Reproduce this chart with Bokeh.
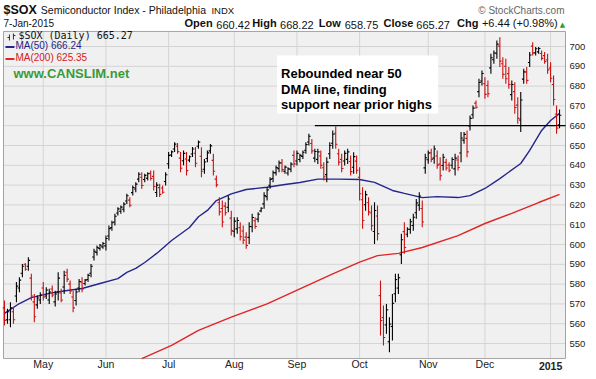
import pandas as pd
from bokeh.plotting import figure
from bokeh.models import ColumnDataSource, Label, FixedTicker, Range1d
from bokeh.embed import file_html
from bokeh.resources import INLINE

# ---------------- data ----------------
holidays = ["2014-04-18", "2014-05-26", "2014-07-04", "2014-09-01",
            "2014-11-27", "2014-12-25", "2015-01-01"]
dates = pd.bdate_range("2014-04-11", "2015-01-07", freq="C", holidays=holidays)

opens = [
    568.0, 562.0, 562.0, 566.0, 574.0, 578.0, 585.5, 590.0, 589.0, 583.0,
    571.0, 569.5, 572.0, 578.0, 574.0, 572.0, 577.5, 571.0, 576.0, 575.5,
    578.5, 586.0, 580.0, 573.5, 571.7, 578.0, 581.0, 580.3, 582.3, 585.5,
    593.7, 596.0, 598.0, 598.8, 599.3, 604.3, 608.5, 611.4, 615.9, 616.8,
    617.8, 622.0, 622.4, 626.2, 628.0, 633.0, 634.0, 632.8, 633.5, 636.0,
    634.4, 626.3, 628.7, 628.5, 631.8, 640.8, 645.2, 648.2, 649.6, 643.6,
    642.3, 643.2, 642.6, 645.7, 646.1, 649.6, 644.6, 638.0, 643.4, 647.3,
    642.5, 633.0, 621.1, 618.2, 619.4, 618.8, 613.3, 606.7, 607.9, 608.5,
    606.8, 603.7, 603.6, 609.0, 612.0, 612.8, 617.0, 620.5, 624.2, 629.9,
    633.3, 636.3, 638.3, 641.2, 637.0, 636.1, 638.0, 645.0, 642.2, 642.9,
    644.5, 647.6, 651.8, 651.0, 643.6, 643.0, 644.7, 638.8, 635.3, 645.8,
    651.1, 656.2, 645.8, 643.0, 642.2, 643.0, 641.9, 639.0, 642.1, 634.0,
    622.6, 620.1, 621.1, 615.9, 606.6, 614.4, 574.2, 563.1, 559.4, 550.9,
    558.6, 575.1, 578.0, 594.8, 606.5, 605.2, 607.7, 609.6, 616.0, 619.9,
    618.2, 638.7, 642.8, 646.3, 643.6, 644.7, 640.6, 639.9, 641.5, 640.1,
    640.0, 638.2, 642.7, 646.2, 652.7, 653.6, 659.9, 665.5, 671.4, 677.2,
    682.6, 681.2, 680.3, 689.2, 693.3, 696.6, 700.2, 691.3, 690.0, 686.3,
    675.7, 677.2, 670.4, 662.9, 683.5, 687.1, 691.9, 700.2, 696.8, 697.3,
    696.5, 695.4, 693.3, 689.1, 680.8, 665.9, 660.42]

highs = [
    571.7, 567.5, 570.8, 568.3, 581.0, 583.5, 590.2, 590.5, 593.6, 585.2,
    575.0, 574.2, 575.9, 581.0, 578.4, 577.6, 579.3, 576.7, 586.0, 577.6,
    586.8, 587.7, 581.8, 576.7, 577.6, 582.6, 583.5, 582.6, 585.2, 590.2,
    597.8, 599.5, 600.3, 601.2, 604.5, 609.6, 612.0, 615.5, 618.8, 619.7,
    621.4, 625.6, 623.9, 629.8, 631.5, 636.5, 636.5, 635.7, 636.5, 637.4,
    637.4, 631.5, 630.7, 629.8, 636.5, 646.7, 647.5, 651.7, 651.2, 646.7,
    647.5, 646.7, 645.0, 649.2, 649.2, 652.5, 649.1, 643.2, 647.5, 650.8,
    645.8, 634.8, 623.9, 622.2, 621.4, 624.7, 617.1, 613.8, 613.8, 611.3,
    609.6, 606.2, 611.3, 615.5, 613.8, 616.3, 618.8, 626.4, 628.9, 634.0,
    637.4, 639.9, 642.4, 643.2, 639.9, 639.0, 641.6, 647.5, 647.5, 645.8,
    647.5, 651.7, 655.9, 653.3, 648.3, 648.3, 647.5, 641.6, 644.1, 651.7,
    657.6, 659.6, 648.3, 645.8, 647.5, 648.3, 644.9, 646.6, 644.9, 639.0,
    628.9, 627.2, 623.9, 619.7, 621.4, 619.7, 581.8, 569.2, 570.0, 563.3,
    575.0, 585.2, 585.2, 605.4, 611.3, 608.7, 613.0, 615.5, 623.0, 626.4,
    622.2, 645.8, 647.5, 648.3, 650.0, 647.5, 644.1, 645.8, 643.3, 641.6,
    644.1, 645.8, 645.0, 656.8, 656.8, 657.6, 665.2, 670.2, 672.7, 683.7,
    687.9, 684.5, 682.8, 696.3, 698.0, 703.0, 704.7, 694.6, 693.8, 689.6,
    682.8, 682.0, 674.4, 677.0, 688.7, 689.6, 697.2, 702.2, 699.7, 699.7,
    698.0, 697.2, 696.3, 692.1, 685.4, 670.2, 668.22]

lows = [
    559.1, 560.0, 558.2, 560.0, 570.8, 575.9, 583.5, 586.8, 586.8, 571.7,
    560.7, 567.5, 570.0, 571.7, 572.5, 570.0, 573.4, 568.7, 571.7, 570.8,
    575.0, 581.0, 575.0, 565.8, 569.2, 575.9, 575.9, 579.3, 581.0, 583.5,
    591.9, 594.4, 597.0, 597.8, 597.0, 602.0, 607.0, 609.6, 614.6, 615.5,
    616.3, 620.5, 618.8, 624.7, 626.4, 631.5, 628.1, 631.5, 632.3, 632.3,
    627.3, 624.0, 624.0, 625.6, 629.8, 638.2, 644.2, 646.7, 645.8, 636.5,
    640.0, 634.9, 641.6, 644.2, 639.0, 648.3, 634.0, 635.7, 641.6, 645.8,
    634.8, 628.9, 614.6, 608.7, 614.6, 616.3, 604.5, 603.7, 605.4, 602.0,
    600.3, 597.8, 600.3, 606.2, 607.9, 611.3, 616.3, 618.0, 622.2, 628.1,
    631.5, 634.8, 636.5, 636.5, 635.7, 634.8, 636.5, 639.0, 639.9, 641.6,
    643.2, 645.8, 650.0, 645.8, 641.6, 640.7, 638.2, 632.3, 631.5, 643.2,
    648.3, 648.3, 639.9, 636.5, 639.9, 640.7, 634.8, 635.7, 635.7, 622.2,
    607.9, 617.1, 614.6, 607.0, 600.3, 602.0, 554.0, 549.0, 554.9, 545.6,
    551.5, 570.8, 575.0, 590.2, 595.3, 603.7, 605.4, 607.0, 613.0, 617.1,
    608.7, 635.7, 640.8, 641.6, 640.8, 638.2, 632.3, 637.4, 637.4, 636.5,
    638.2, 634.9, 637.4, 641.6, 650.9, 644.1, 657.6, 663.5, 668.5, 674.4,
    680.3, 673.6, 674.4, 686.2, 691.3, 693.8, 689.6, 683.7, 681.2, 678.6,
    672.7, 666.0, 661.0, 656.8, 681.2, 681.2, 689.6, 695.5, 695.5, 696.3,
    693.0, 691.3, 686.2, 682.0, 670.2, 655.9, 658.75]

closes = [
    561.6, 566.0, 568.0, 562.0, 579.0, 582.0, 589.0, 587.5, 592.0, 574.0,
    563.5, 573.0, 574.5, 573.5, 577.0, 576.0, 574.5, 575.0, 583.0, 572.0,
    584.5, 582.5, 576.5, 568.0, 576.0, 581.3, 577.5, 582.0, 584.4, 589.0,
    596.6, 598.5, 599.6, 600.5, 603.0, 608.0, 611.0, 614.3, 618.0, 618.9,
    620.4, 624.6, 619.8, 628.8, 630.5, 635.5, 629.8, 634.9, 635.7, 633.3,
    629.3, 630.0, 625.3, 626.4, 635.2, 645.0, 646.8, 650.7, 646.9, 638.5,
    646.0, 637.3, 644.3, 648.2, 641.0, 651.7, 637.0, 641.7, 646.3, 649.8,
    637.0, 630.1, 616.5, 611.4, 616.0, 623.0, 607.0, 611.8, 612.1, 603.9,
    602.2, 599.5, 609.1, 613.6, 609.1, 615.3, 618.3, 624.7, 627.6, 632.8,
    636.2, 638.9, 641.2, 637.8, 639.1, 638.2, 640.6, 640.7, 646.0, 645.0,
    646.6, 650.5, 654.7, 647.3, 647.0, 646.8, 640.0, 634.2, 641.6, 650.0,
    655.7, 650.6, 641.6, 638.4, 646.0, 646.8, 636.8, 644.4, 637.5, 625.6,
    612.1, 625.2, 616.5, 609.5, 617.2, 605.5, 561.6, 553.0, 567.0, 559.8,
    570.3, 582.3, 583.2, 602.4, 598.5, 607.7, 611.5, 613.8, 621.0, 624.5,
    611.4, 643.8, 646.2, 643.0, 648.2, 640.1, 634.7, 644.1, 638.6, 637.5,
    642.9, 643.6, 638.9, 653.8, 655.6, 646.8, 663.7, 668.9, 669.3, 681.8,
    686.4, 675.8, 676.1, 694.3, 696.7, 701.2, 692.6, 685.9, 683.7, 680.8,
    680.8, 669.2, 663.7, 673.0, 687.2, 682.9, 695.7, 696.8, 698.9, 699.0,
    694.0, 692.5, 688.2, 684.0, 673.2, 658.8, 665.27]

# moving averages (trading-day index, value)
ma50_idx = [0, 5, 9, 15, 21, 26, 32, 38, 41, 44, 47, 51, 56, 62, 65, 68, 71, 76,
            81, 88, 94, 99, 105, 112, 119, 124, 130, 134, 140, 145, 152, 156,
            161, 166, 173, 176, 180, 183, 186]
ma50_val = [565.2, 570.2, 573.2, 575.3, 576.8, 577.8, 580.3, 582.8, 585.9, 587.9,
            590.9, 595.5, 602.0, 608.6, 614.0, 617.2, 622.2, 625.6, 627.8, 628.9,
            630.3, 631.3, 633.0, 633.0, 632.8, 631.4, 627.3, 625.8, 623.7, 624.2,
            623.7, 624.7, 628.3, 633.3, 640.9, 647.5, 657.6, 662.6, 666.24]
ma200_idx = [46, 56, 65, 76, 88, 99, 110, 119, 125, 132, 140, 152, 161, 170, 179, 186]
ma200_val = [542.4, 549.0, 556.6, 563.3, 570.0, 577.6, 585.2, 591.1, 594.4, 595.5,
             598.5, 604.5, 610.6, 615.7, 621.2, 625.35]

y_ticks = list(range(550, 701, 10))
price_lo, price_hi = 542.4, 707.6        # visible price band of the chart panel
support_level = 660.0
support_from_idx = 104

n = len(dates)
if not (len(opens) == len(highs) == len(lows) == len(closes) == n):
    raise SystemExit(f"length mismatch {n} {len(opens)} {len(highs)} {len(lows)} {len(closes)}")

month_ticks = [i for i in range(1, n) if dates[i].month != dates[i - 1].month]

# ---------------- layout helpers (pixel -> data) ----------------
W, H = 588, 371
FRAME_R = 569                 # right edge of the drawing frame, px


def X(px):
    return (px - 4) / 3.0


def Y(py):
    return 700.0 - (py - 46) / 1.98


p = figure(width=W, height=H, output_backend="svg", toolbar_location=None,
           x_range=Range1d(X(0), X(FRAME_R)), y_range=Range1d(Y(H), Y(0)),
           y_axis_location="right", title=None,
           min_border_left=0, min_border_right=W - FRAME_R, min_border_top=0, min_border_bottom=0)

p.background_fill_color = "white"
p.border_fill_color = "white"
p.outline_line_color = None
p.xaxis.visible = False
p.xgrid.visible = False
p.ygrid.visible = False

p.yaxis.ticker = FixedTicker(ticks=y_ticks)
p.yaxis.axis_line_color = None
p.yaxis.major_tick_line_color = None
p.yaxis.minor_tick_line_color = None
p.yaxis.major_tick_out = 0
p.yaxis.major_tick_in = 0
p.yaxis.major_label_standoff = 3
p.yaxis.major_label_text_font_size = "9.5px"
p.yaxis.major_label_text_font = "Liberation Sans"
p.yaxis.major_label_text_color = "#222222"

# chart panel: background, grid, frame
left_i, right_i = X(3), X(568)
p.quad(left=[left_i], right=[right_i], bottom=[price_lo], top=[price_hi],
       fill_color="#f0f0f0", line_color=None)
p.segment(x0=[left_i] * len(y_ticks), x1=[right_i] * len(y_ticks), y0=y_ticks, y1=y_ticks,
          line_color="#d4d4d4", line_width=1)
p.segment(x0=month_ticks, x1=month_ticks, y0=[price_lo] * len(month_ticks),
          y1=[price_hi] * len(month_ticks), line_color="#d4d4d4", line_width=1)
p.quad(left=[left_i], right=[right_i], bottom=[price_lo], top=[price_hi],
       fill_color=None, line_color="#a3a3a3", line_width=1)

# moving averages
p.line(ma200_idx, ma200_val, line_color="#e02525", line_width=1.4)
p.line(ma50_idx, ma50_val, line_color="#25258c", line_width=1.4)

# OHLC bars
colors = ["#000000" if c >= o else "#cc1010" for o, c in zip(opens, closes)]
idx = list(range(n))
src = ColumnDataSource(dict(
    x=idx, xl=[i - 0.6 for i in idx], xr=[i + 0.6 for i in idx],
    o=opens, h=highs, l=lows, c=closes, color=colors))
p.segment(x0="x", y0="l", x1="x", y1="h", line_color="color", line_width=1.1, source=src)
p.segment(x0="xl", y0="o", x1="x", y1="o", line_color="color", line_width=1.1, source=src)
p.segment(x0="x", y0="c", x1="xr", y1="c", line_color="color", line_width=1.1, source=src)

# support line near prior highs
p.segment(x0=[support_from_idx], y0=[support_level], x1=[right_i], y1=[support_level],
          line_color="black", line_width=1.3)

# annotation box
p.quad(left=[X(278)], right=[X(440)], top=[Y(55)], bottom=[Y(113)],
       fill_color="white", line_color=None)
for txt, by in [("Rebounded near 50", 73), ("DMA line, finding", 88.5),
                ("support near prior highs", 104)]:
    p.add_layout(Label(x=X(282), y=Y(by), text=txt, text_font="Liberation Sans",
                       text_font_size="13px", text_font_style="bold", text_color="black",
                       text_baseline="alphabetic"))

# legend inside the panel
p.segment(x0=[X(9), X(13)], y0=[Y(40), Y(39)], x1=[X(9), X(13)], y1=[Y(34), Y(33)],
          line_color="#333333", line_width=1)
p.segment(x0=[X(7), X(13)], y0=[Y(37), Y(35)], x1=[X(9), X(15)], y1=[Y(37), Y(35)],
          line_color="#333333", line_width=1)
p.add_layout(Label(x=X(18), y=Y(40.5), text="$SOX (Daily) 665.27",
                   text_font="DejaVu Sans Mono", text_font_size="10px", text_color="#111111"))
p.segment(x0=[X(5)], y0=[Y(46.5)], x1=[X(14)], y1=[Y(46.5)], line_color="#25258c", line_width=2)
p.add_layout(Label(x=X(15), y=Y(50.5), text="MA(50) 666.24", text_font="Liberation Sans",
                   text_font_size="10px", text_color="#1f1f85"))
p.segment(x0=[X(5)], y0=[Y(58.5)], x1=[X(14)], y1=[Y(58.5)], line_color="#e02525", line_width=2)
p.add_layout(Label(x=X(15), y=Y(62.5), text="MA(200) 625.35", text_font="Liberation Sans",
                   text_font_size="10px", text_color="#d42020"))
p.add_layout(Label(x=X(13), y=Y(80), text="www.CANSLIM.net", text_font="Liberation Sans",
                   text_font_size="13px", text_font_style="bold", text_color="#3a9a3a"))

# header
hdr = [
    (3, 16, "$SOX", "12.5px", "bold"),
    (40.5, 15.5, "Semiconductor Index - Philadelphia", "10.5px", "normal"),
    (212, 15.5, "INDX", "9.5px", "normal"),
    (3, 28, "7-Jan-2015", "10px", "normal"),
    (185, 28, "Open", "11px", "bold"),
    (217, 28, "660.42", "11px", "normal"),
    (253, 28, "High", "11px", "bold"),
    (281, 28, "668.22", "11px", "normal"),
    (320, 28, "Low", "11px", "bold"),
    (346, 28, "658.75", "11px", "normal"),
    (385, 28, "Close", "11px", "bold"),
    (418, 28, "665.27", "11px", "normal"),
    (459, 28, "Chg", "11px", "bold"),
    (484, 28, "+6.44 (+0.98%)", "11px", "normal"),
]
for hx, hy, txt, fs, st in hdr:
    p.add_layout(Label(x=X(hx), y=Y(hy), text=txt, text_font="Liberation Sans",
                       text_font_size=fs, text_font_style=st, text_color="#111111"))
p.add_layout(Label(x=X(565), y=Y(24), text="\u25b2", text_font="DejaVu Sans",
                   text_font_size="7px", text_color="#2aa22a", text_align="center",
                   text_baseline="middle"))
p.add_layout(Label(x=X(567), y=Y(15), text="\u00a9 StockCharts.com", text_font="Liberation Sans",
                   text_font_size="10px", text_color="#666666", text_align="right"))

# month labels
for t in month_ticks:
    d = dates[t]
    is_year = d.month == 1
    p.add_layout(Label(x=t, y=Y(369.5), text=(str(d.year) if is_year else d.strftime("%b")),
                       text_font="Liberation Sans", text_font_size="10.5px",
                       text_font_style=("bold" if is_year else "normal"),
                       text_color="#222222", text_align="center"))

open("out.html", "w").write(file_html(p, INLINE))
